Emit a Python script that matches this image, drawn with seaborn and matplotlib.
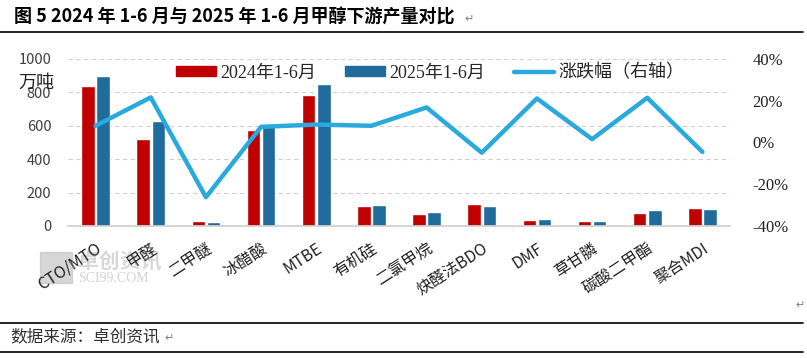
import numpy as np
import pandas as pd
import matplotlib
matplotlib.use("Agg")
import matplotlib.pyplot as plt
import seaborn as sns
from matplotlib.patches import Patch, Rectangle
from matplotlib.lines import Line2D

categories = ["CTO/MTO", "甲醛", "二甲醚", "冰醋酸", "MTBE", "有机硅", "二氯甲烷",
              "炔醛法BDO", "DMF", "草甘膦", "碳酸二甲酯", "聚合MDI"]
output_2024 = [838, 521, 30, 575, 784, 122, 72, 132, 36, 30, 78, 108]
output_2025 = [900, 629, 24, 610, 850, 126, 84, 120, 42, 29, 96, 102]
change_pct = [8.0, 21.6, -26.2, 7.5, 8.6, 8.0, 16.8, -4.9, 21.1, 1.6, 21.4, -4.5]
series_names = ["2024年1-6月", "2025年1-6月"]
line_name = "涨跌幅（右轴）"
left_ticks = [0, 200, 400, 600, 800, 1000]
right_ticks = [-40, -20, 0, 20, 40]

RED = "#C00000"
BLUE = "#1F6C9C"
CYAN = "#2AA9DF"

sns.set_theme(style="white")
plt.rcParams["font.family"] = ["Noto Sans CJK SC", "DejaVu Sans"]
plt.rcParams["axes.unicode_minus"] = False

df = pd.DataFrame({
    "品类": categories * 2,
    "产量": output_2024 + output_2025,
    "年份": [series_names[0]] * len(categories) + [series_names[1]] * len(categories),
})

W, H = 807, 358
fig = plt.figure(figsize=(W / 100, H / 100), dpi=100)
ax = fig.add_axes([68 / W, 1 - 226 / H, (730 - 68) / W, (226 - 59) / H])

sns.barplot(data=df, x="品类", y="产量", hue="年份", order=categories,
            hue_order=series_names, palette=[RED, BLUE], width=0.55, gap=0.1,
            saturation=1, legend=False, ax=ax)
ax.set_ylim(0, 1000)
ax.set_xlim(-0.5, len(categories) - 0.5)
ax.set_yticks(left_ticks)
ax.set_yticklabels([str(t) for t in left_ticks], fontsize=10.5, color="#404040")
ax.yaxis.grid(True, linestyle=(0, (4, 3)), color="#D0D0D0", linewidth=0.8)
ax.set_axisbelow(True)
ax.set_xlabel("")
ax.set_ylabel("")
for s in ["top", "right", "left"]:
    ax.spines[s].set_visible(False)
ax.spines["bottom"].set_color("#D0D0D0")
ax.tick_params(axis="y", length=0, pad=12)
ax.tick_params(axis="x", length=0, pad=10)
ax.set_xticks(range(len(categories)))
ax.set_xticklabels(categories, rotation=33, ha="right", rotation_mode="anchor",
                   fontsize=11.5, color="#202020")

ax2 = ax.twinx()
sns.lineplot(x=np.arange(len(categories)), y=change_pct, color=CYAN, linewidth=3.2,
             ax=ax2, legend=False)
ax2.set_ylim(-40, 40)
ax2.set_yticks(right_ticks)
ax2.set_yticklabels([f"{t}%" for t in right_ticks], fontsize=12,
                    family=["Liberation Serif", "Noto Sans CJK SC"], color="#202020")
ax2.tick_params(axis="y", length=0, pad=16)
ax2.set_ylabel("")
for s in ax2.spines.values():
    s.set_visible(False)
ax2.grid(False)

handles = [Patch(facecolor=RED, edgecolor=RED), Patch(facecolor=BLUE, edgecolor=BLUE),
           Line2D([0], [0], color=CYAN, linewidth=3.2)]
fig.legend(handles, series_names + [line_name], ncol=3, frameon=False,
           loc="center left", bbox_to_anchor=(160 / W, 1 - 73 / H),
           prop={"family": ["Liberation Serif", "Noto Sans CJK SC"], "size": 13},
           handlelength=2.2, handleheight=0.5, columnspacing=1.6, handletextpad=0.25)

fig.text(18 / W, 1 - 83 / H, "万吨", fontsize=13, color="#202020", va="center")

# title and page decorations
fig.text(14 / W, 1 - 17 / H, "图 5 2024 年 1-6 月与 2025 年 1-6 月甲醇下游产量对比",
         fontsize=13, fontweight="bold", va="center", color="black")
fig.text(464 / W, 1 - 19 / H, "↵", fontsize=8, color="#808080", va="center",
         family=["DejaVu Sans"])
fig.add_artist(Line2D([0, 803 / W], [1 - 32 / H] * 2, color="black", linewidth=1.2))
fig.add_artist(Line2D([0, 803 / W], [1 - 323 / H] * 2, color="black", linewidth=1.2))
fig.add_artist(Line2D([0, 803 / W], [1 - 352 / H] * 2, color="black", linewidth=1.2))
fig.text(10 / W, 1 - 337 / H, "数据来源：卓创资讯", fontsize=12, color="#303030",
         va="center")
fig.text(164 / W, 1 - 338 / H, "↵", fontsize=8, color="#808080", va="center",
         family=["DejaVu Sans"])
fig.text(795 / W, 1 - 305 / H, "↵", fontsize=8, color="#808080", va="center",
         family=["DejaVu Sans"])

# watermark, kept behind the tick labels
fig.add_artist(Rectangle((40 / W, 1 - 283 / H), 32 / W, 31 / H, color="#BDBDBD",
                         alpha=0.6, transform=fig.transFigure, zorder=-1))
fig.text(78 / W, 1 - 262 / H, "卓创资讯", fontsize=15, fontweight="bold",
         color="#C8C8C8", alpha=0.7, va="center", zorder=-1)
fig.text(78 / W, 1 - 279 / H, "SCI99.COM", fontsize=10,
         family=["Liberation Serif"], color="#C8C8C8", alpha=0.8, va="center", zorder=-1)

fig.savefig("out.png", dpi=100)
